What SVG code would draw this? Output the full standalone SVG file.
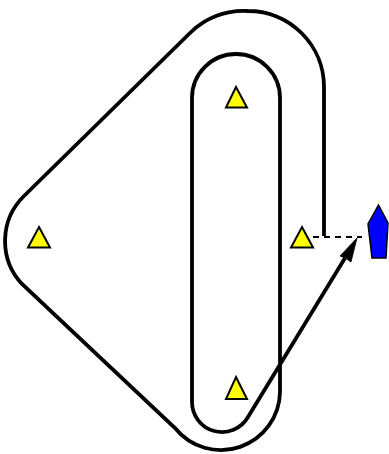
<svg xmlns="http://www.w3.org/2000/svg" width="389" height="454" viewBox="0 0 389 454">
<style>
.track{fill:none;stroke:#000;stroke-width:3.8}
.dash{fill:none;stroke:#000;stroke-width:2;stroke-dasharray:6 5}
.mark{fill:#ff0;stroke:#000;stroke-width:2;stroke-linejoin:miter}
.boat{fill:#00f;stroke:#000;stroke-width:1.5}
</style>
<rect width="389" height="454" fill="#fff"/>
<g id="connectors">
<path class="track" d="M324 236V87A76 76 0 0 0 248 11A76 76 0 0 0 190 33L24 196A63 63 0 0 0 22 284L175 428A59 59 0 0 0 280 392V98A44 44 0 0 0 192 98V402A30 30 0 0 0 248 417L345 258"/>
<path class="dash" d="M313 237H362"/>
<path d="M357 238L351 262L345.500 258L340 256Z" fill="#000" stroke="#000" stroke-width=".8"/>
</g>
<g id="mark-top"><path class="mark" d="M236 87L247 107.500H226Z"/></g>
<g id="mark-left"><path class="mark" d="M39 227L50 247.500H28Z"/></g>
<g id="mark-right"><path class="mark" d="M302 227L313 247.500H291Z"/></g>
<g id="mark-bottom"><path class="mark" d="M236 377L247 399H226Z"/></g>
<g id="boat"><path class="boat" d="M378.500 205L388 223L386 258H372L368 224Z"/></g>
</svg>
